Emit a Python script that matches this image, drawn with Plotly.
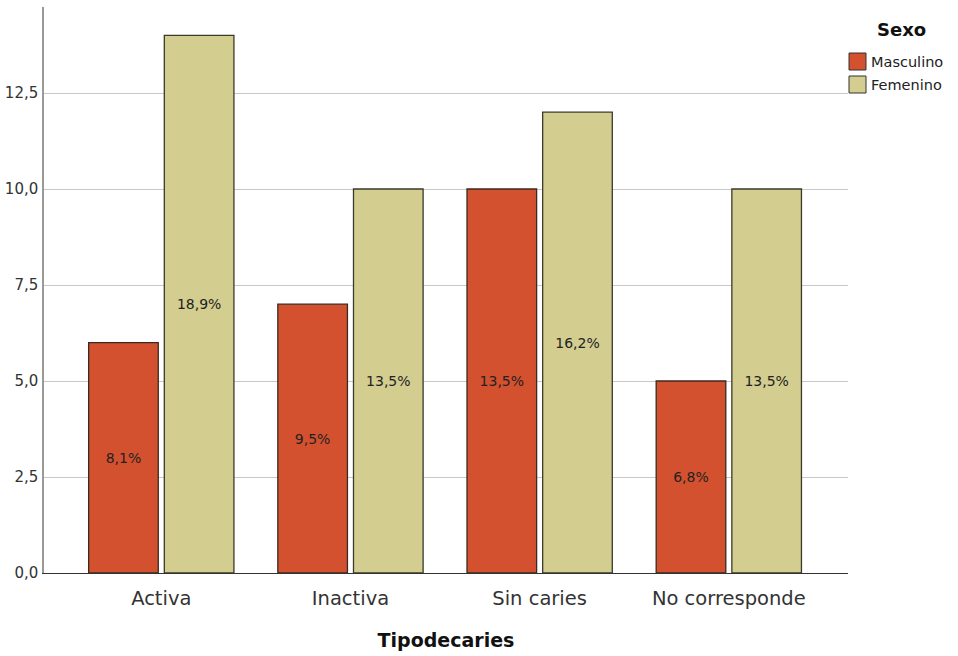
import plotly.graph_objects as go

categories = ["Activa", "Inactiva", "Sin caries", "No corresponde"]
masculino = [6, 7, 10, 5]
femenino = [14, 10, 12, 10]
masculino_pct = ["8,1%", "9,5%", "13,5%", "6,8%"]
femenino_pct = ["18,9%", "13,5%", "16,2%", "13,5%"]
y_ticks = [0, 2.5, 5, 7.5, 10, 12.5]

FONT = "DejaVu Sans, Verdana, sans-serif"
RED = "#D4512F"
TAN = "#D3CD90"

# plot area in pixels (used to place the hand-drawn legend)
L, R, T, B = 44, 848, 7, 573
W_PX, H_PX = R - L, B - T


def px_x(px):
    return (px - L) / W_PX


def px_y(py):
    return (B - py) / H_PX


label_font = dict(family=FONT, size=14, color="#222222")

fig = go.Figure()
fig.add_trace(go.Bar(
    name="Masculino", x=categories, y=masculino,
    text=masculino_pct, textposition="inside", insidetextanchor="middle",
    textfont=label_font, textangle=0,
    marker=dict(color=RED, line=dict(color="#3a2a20", width=1.3)),
))
fig.add_trace(go.Bar(
    name="Femenino", x=categories, y=femenino,
    text=femenino_pct, textposition="inside", insidetextanchor="middle",
    textfont=label_font, textangle=0,
    marker=dict(color=TAN, line=dict(color="#3a3a2a", width=1.3)),
))

# legend: title plus two square swatches with labels
legend_items = [("Masculino", RED, 53), ("Femenino", TAN, 76)]
shapes = []
annotations = [dict(
    text="<b>Sexo</b>", xref="paper", yref="paper",
    x=px_x(901), y=px_y(30), xanchor="center", yanchor="middle",
    showarrow=False, font=dict(family=FONT, size=18, color="#111111"),
)]
for name, color, top in legend_items:
    shapes.append(dict(
        type="rect", xref="paper", yref="paper",
        x0=px_x(849), x1=px_x(866), y0=px_y(top + 17), y1=px_y(top),
        fillcolor=color, line=dict(color="#333333", width=1),
    ))
    annotations.append(dict(
        text=name, xref="paper", yref="paper",
        x=px_x(869), y=px_y(top + 9), xanchor="left", yanchor="middle",
        showarrow=False, font=dict(family=FONT, size=14.5, color="#222222"),
    ))

fig.update_layout(
    width=958, height=656,
    margin=dict(l=L, r=958 - R, t=T, b=656 - B, autoexpand=False),
    paper_bgcolor="white", plot_bgcolor="white",
    separators=",.",
    barmode="group", bargap=0.2, bargroupgap=0.08,
    font=dict(family=FONT, color="#222222"),
    showlegend=False,
    shapes=shapes,
    annotations=annotations,
)

fig.update_xaxes(
    range=[-0.62, 3.63],
    showline=True, linecolor="#333333", linewidth=1.2,
    ticks="", tickfont=dict(family=FONT, size=19.5, color="#333333"),
    ticklabelstandoff=7,
    title=dict(text="<b>Tipodecaries</b>", font=dict(family=FONT, size=19, color="#111111"), standoff=25),
    showgrid=False,
)
fig.update_yaxes(
    range=[0, 14.74],
    tickvals=y_ticks, tickformat=".1f",
    showline=True, linecolor="#999999", linewidth=1.5,
    ticks="", tickfont=dict(family=FONT, size=15, color="#333333"),
    ticklabelstandoff=1,
    showgrid=True, gridcolor="#C8C8C8", gridwidth=1,
    zeroline=False,
)

fig.write_html("out.html")
